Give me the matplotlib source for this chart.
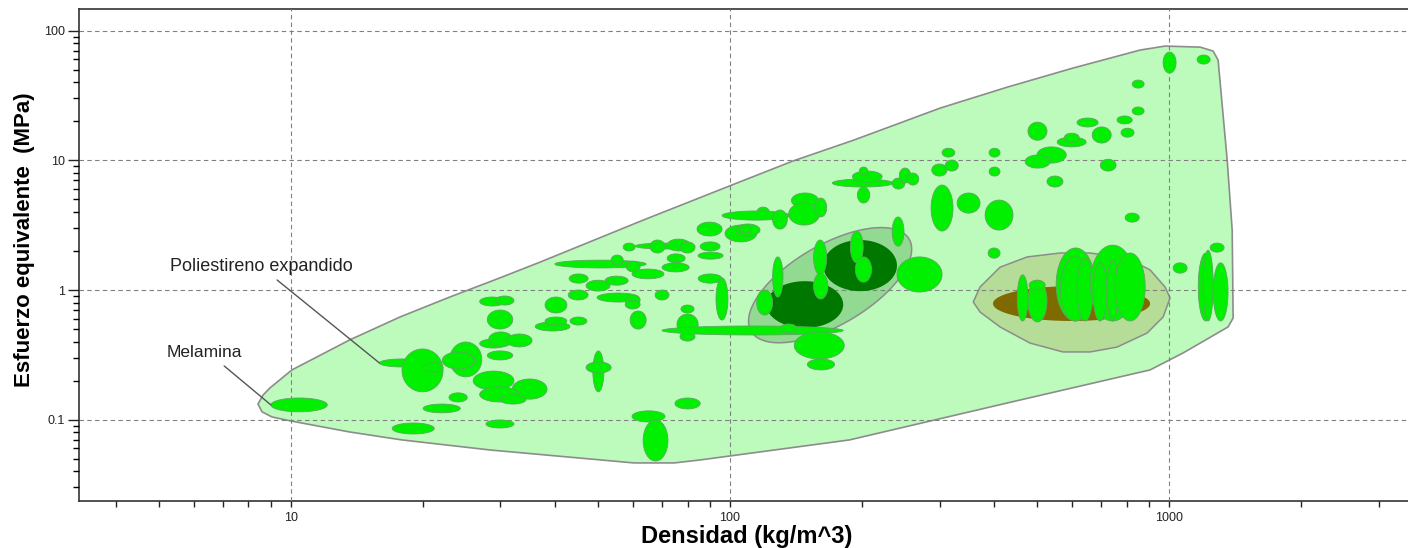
import numpy as np
import matplotlib.pyplot as plt
from matplotlib.ticker import FixedLocator, LogLocator, NullFormatter

plt.rcParams['font.family'] = ['Liberation Sans', 'DejaVu Sans']

## rangos de cada material: densidad (kg/m^3) y esfuerzo equivalente (MPa)
dens_min = [9.0, 15.9, 17.9, 20.0, 23.0, 22.1, 22.9, 20.0, 17.0, 27.8,
            26.0, 31.9, 26.9, 29.9, 28.0, 26.9, 29.2, 26.9, 28.2, 31.0,
            28.0, 37.9, 36.0, 37.9, 43.2, 43.0, 47.0, 51.9, 42.8, 49.8,
            57.7, 57.7, 67.5, 59.2, 77.3, 75.7, 76.9, 70.0, 39.9, 53.6,
            58.0, 59.8, 57.1, 60.8, 65.7, 71.9, 76.9, 85.5, 84.6, 71.9,
            70.0, 84.6, 92.9, 84.1, 97.4, 103, 105, 48.7, 47.0, 74.9,
            59.8, 63.4, 171, 190, 197, 195, 234, 243, 253, 304,
            288, 309, 389, 389, 287, 329, 381, 387, 138, 136,
            156, 115, 95.9, 125, 234, 125, 115, 155, 155, 188,
            193, 240, 140, 150, 130, 451, 477, 480, 553, 565,
            617, 661, 671, 722, 753, 1021, 1165, 1195, 1260, 1240,
            969, 1158, 824, 824, 761, 777, 617, 668, 556, 577,
            477, 500, 470, 697, 527, 794]
dens_max = [12.1, 20.2, 22.2, 22.2, 27.2, 26.2, 25.2, 24.3, 21.2, 32.2,
            32.2, 38.3, 33.1, 34.3, 32.0, 30.7, 32.2, 31.0, 32.0, 35.4,
            32.0, 42.5, 43.2, 42.5, 47.2, 47.5, 53.3, 58.6, 47.5, 62.0,
            62.4, 62.4, 72.6, 64.4, 82.8, 84.6, 83.2, 181, 64.4, 57.1,
            62.4, 70.7, 60.8, 83.2, 71.1, 81.1, 83.2, 94.9, 96.4, 79.0,
            80.7, 95.9, 98.9, 95.9, 115, 117, 112, 51.6, 53.6, 85.5,
            71.1, 72.2, 235, 222, 206, 208, 250, 258, 269, 325,
            312, 331, 412, 412, 322, 371, 441, 412, 159, 160,
            166, 123, 137, 135, 249, 132, 125, 166, 167, 201,
            210, 304, 182, 173, 142, 477, 527, 522, 678, 661,
            671, 837, 722, 765, 882, 1099, 1260, 1260, 1362, 1334,
            1037, 1240, 877, 877, 824, 832, 689, 738, 647, 624,
            527, 583, 536, 757, 573, 855]
esf_min = [0.115, 0.255, 0.164, 0.233, 0.214, 0.246, 0.137, 0.113, 0.0776, 0.0863,
           0.169, 0.144, 0.137, 0.132, 0.500, 0.753, 0.766, 0.357, 0.364, 0.364,
           0.289, 0.665, 0.483, 0.537, 0.537, 1.13, 0.982, 1.09, 0.838, 0.808,
           0.766, 0.714, 0.838, 0.500, 0.665, 0.450, 0.404, 0.450, 1.48, 1.56,
           1.38, 1.22, 2.00, 2.07, 1.93, 2.00, 1.93, 2.00, 1.73, 1.62,
           1.38, 1.13, 0.587, 2.61, 2.35, 2.61, 2.75, 0.164, 0.229, 0.121,
           0.096, 0.048, 6.23, 6.80, 7.70, 4.69, 6.01, 6.68, 6.45, 10.6,
           7.57, 8.27, 10.6, 7.57, 2.85, 3.92, 2.90, 1.76, 4.29, 3.17,
           3.66, 3.59, 3.46, 2.95, 2.18, 0.883, 0.641, 1.31, 0.852, 1.62,
           1.15, 0.965, 0.294, 0.242, 0.466, 0.577, 0.567, 1.00, 0.577, 0.577,
           0.577, 0.577, 0.577, 0.577, 0.577, 1.35, 0.577, 0.577, 0.577, 1.96,
           47.1, 55.3, 36.1, 22.4, 19.1, 15.1, 18.1, 13.6, 12.7, 13.8,
           14.3, 9.53, 8.72, 8.27, 6.23, 3.34]
esf_max = [0.147, 0.294, 0.351, 0.274, 0.397, 0.333, 0.161, 0.132, 0.0943, 0.0995,
           0.237, 0.206, 0.179, 0.155, 0.701, 0.883, 0.899, 0.419, 0.475, 0.458,
           0.339, 0.883, 0.567, 0.619, 0.619, 1.33, 1.19, 1.28, 1.00, 0.948,
           0.915, 0.838, 1.00, 0.689, 0.766, 0.653, 0.475, 0.528, 1.70, 1.86,
           1.67, 1.45, 2.30, 2.30, 2.43, 2.47, 2.35, 2.35, 1.96, 1.90,
           1.62, 1.33, 1.24, 3.34, 3.17, 3.23, 3.17, 0.339, 0.279, 0.147,
           0.117, 0.0995, 7.17, 8.27, 8.88, 6.23, 7.30, 8.72, 7.98, 12.4,
           9.37, 10.05, 12.4, 8.88, 6.45, 5.60, 4.94, 2.11, 5.60, 4.69,
           5.12, 4.36, 4.07, 4.14, 3.66, 1.80, 1.00, 2.43, 1.35, 2.85,
           1.80, 1.80, 0.475, 0.294, 0.547, 1.31, 1.19, 1.19, 2.11, 1.80,
           1.76, 2.22, 1.62, 1.70, 1.93, 1.62, 1.93, 2.03, 1.62, 2.30,
           68.4, 64.9, 41.6, 25.8, 22.0, 17.7, 21.2, 18.1, 15.1, 16.2,
           19.7, 12.7, 11.0, 10.2, 7.57, 3.92]

## envolvente de todos los materiales
env_dens = [8.41, 8.64, 8.96, 10.05, 13.6, 17.7, 23.0, 29.9, 36.9, 63.4,
            105, 139, 191, 301, 428, 604, 859, 979, 1177, 1260,
            1293, 1356, 1392, 1399, 1362, 1076, 905, 446, 187, 117,
            85.4, 74.6, 60.4, 28.4, 17.9, 13.6, 10.0, 9.05, 8.59]
env_esf = [0.132, 0.155, 0.176, 0.242, 0.412, 0.619, 0.883, 1.24, 1.64, 3.46,
           6.80, 9.88, 14.3, 25.3, 36.7, 51.5, 70.9, 76.1, 74.7, 69.6,
           59.3, 10.05, 2.90, 0.608, 0.519, 0.327, 0.242, 0.139, 0.0698, 0.0564,
           0.0489, 0.0464, 0.0464, 0.0584, 0.0698, 0.0804, 0.0977, 0.105, 0.115]

## familia olivo (envolvente y nucleo)
olivo_dens = [358, 371, 412, 475, 565, 661, 802, 905, 979, 1005,
              969, 891, 761, 661, 573, 482, 412, 371]
olivo_esf = [0.808, 1.055, 1.50, 1.80, 1.93, 1.93, 1.76, 1.43, 1.055, 0.868,
             0.619, 0.466, 0.363, 0.333, 0.333, 0.390, 0.519, 0.677]
nucleo_olivo = [397, 905, 0.577, 1.07]

## familia verde oscuro: envolvente inclinada y dos nucleos
verde_centro = [169, 1.09]
verde_eje_u = [0.18, 0.355]     # decadas (densidad, esfuerzo)
verde_eje_v = [-0.046, 0.267]
oscuro_dens_min = [163, 121]
oscuro_dens_max = [240, 181]
oscuro_esf_min = [0.98, 0.51]
oscuro_esf_max = [2.43, 1.17]


def elipse(x0, x1, y0, y1, n=120):
    t = np.linspace(0, 2 * np.pi, n)
    cx, rx = (np.log10(x0) + np.log10(x1)) / 2, (np.log10(x1) - np.log10(x0)) / 2
    cy, ry = (np.log10(y0) + np.log10(y1)) / 2, (np.log10(y1) - np.log10(y0)) / 2
    return 10 ** (cx + rx * np.cos(t)), 10 ** (cy + ry * np.sin(t))


fig = plt.figure(figsize=(14.08, 5.48), dpi=100)
ax = fig.add_axes([79 / 1408, 47 / 548, 1 - 79 / 1408, 492 / 548])
ax.set_xscale('log')
ax.set_yscale('log')
ax.set_xlim(3.29, 3500)
ax.set_ylim(0.0236, 147)

## envolventes
ax.fill(env_dens, env_esf, facecolor='#bdfbbd', edgecolor='#8c8c8c', lw=1.2,
        joinstyle='round', zorder=1)
ax.fill(olivo_dens, olivo_esf, facecolor='#b5dd97', edgecolor='#8c8c8c', lw=1.1,
        joinstyle='round', zorder=1.5)
t = np.linspace(0, 2 * np.pi, 200)
lx = np.log10(verde_centro[0]) + verde_eje_u[0] * np.cos(t) + verde_eje_v[0] * np.sin(t)
ly = np.log10(verde_centro[1]) + verde_eje_u[1] * np.cos(t) + verde_eje_v[1] * np.sin(t)
ax.fill(10 ** lx, 10 ** ly, facecolor='#92d992', edgecolor='#8c8c8c', lw=1.1, zorder=1.5)

## nucleos
for i in range(len(oscuro_dens_min)):
    x, y = elipse(oscuro_dens_min[i], oscuro_dens_max[i], oscuro_esf_min[i], oscuro_esf_max[i])
    ax.fill(x, y, facecolor='#007800', edgecolor='none', zorder=3)
x, y = elipse(*nucleo_olivo)
ax.fill(x, y, facecolor='#7f6a00', edgecolor='none', zorder=3)

## materiales
for i in range(len(dens_min)):
    x, y = elipse(dens_min[i], dens_max[i], esf_min[i], esf_max[i])
    ax.fill(x, y, facecolor='#00f000', edgecolor='#5fa55f', lw=0.6, zorder=4)

## etiquetas
ax.annotate('Melamina', xy=(dens_min[0], np.sqrt(esf_min[0] * esf_max[0])),
            xytext=(5.22, 0.327), ha='left', va='center', fontsize=12.5, color='#222222',
            arrowprops=dict(arrowstyle='-', color='#555555', lw=1, relpos=(0.67, 0),
                            shrinkA=3, shrinkB=0), zorder=5)
ax.annotate('Poliestireno expandido', xy=(dens_min[1], np.sqrt(esf_min[1] * esf_max[1])),
            xytext=(5.30, 1.53), ha='left', va='center', fontsize=13, color='#222222',
            arrowprops=dict(arrowstyle='-', color='#555555', lw=1, relpos=(0.55, 0),
                            shrinkA=3, shrinkB=0), zorder=5)

## ejes
x_ticks = [10, 100, 1000]
x_tick_labels = ['10', '100', '1000']
y_ticks = [0.1, 1, 10, 100]
y_tick_labels = ['0.1', '1', '10', '100']
ax.xaxis.set_major_locator(FixedLocator(x_ticks))
ax.set_xticklabels(x_tick_labels)
ax.yaxis.set_major_locator(FixedLocator(y_ticks))
ax.set_yticklabels(y_tick_labels)
ax.xaxis.set_minor_locator(LogLocator(base=10, subs=range(2, 10)))
ax.yaxis.set_minor_locator(LogLocator(base=10, subs=range(2, 10)))
ax.xaxis.set_minor_formatter(NullFormatter())
ax.yaxis.set_minor_formatter(NullFormatter())
ax.tick_params(axis='x', which='both', direction='out', length=4, width=1,
               labelsize=9, pad=4, colors='#222222')
ax.tick_params(axis='y', which='major', direction='out', length=8, width=1,
               labelsize=9, pad=2, colors='#222222')
ax.tick_params(axis='y', which='minor', direction='out', length=4, width=1)

ax.set_axisbelow(False)
ax.grid(True, which='major', linestyle=(0, (4, 3)), color='#808080', lw=0.8)
ax.spines['right'].set_visible(False)
for s in ['left', 'bottom', 'top']:
    ax.spines[s].set_color('#333333')
    ax.spines[s].set_linewidth(1.2)

fig.text(747 / 1408, 1 - 536 / 548, 'Densidad (kg/m^3)', ha='center', va='center',
         fontsize=17, fontweight='bold')
fig.text(25 / 1408, 1 - 240 / 548, 'Esfuerzo equivalente  (MPa)', ha='center', va='center',
         rotation=90, fontsize=16, fontweight='bold')

plt.savefig('out.png', dpi=100)
